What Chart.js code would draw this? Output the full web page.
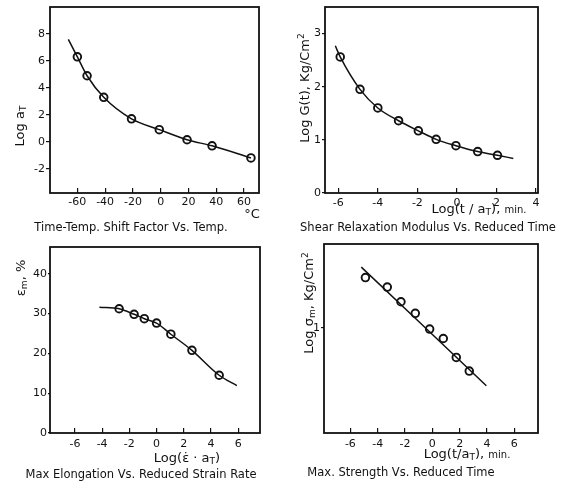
<!DOCTYPE html>
<html><head><meta charset="utf-8">
<script src="https://cdn.jsdelivr.net/npm/chart.js@4.4.1/dist/chart.umd.min.js"></script>
<style>
html,body{margin:0;padding:0;background:#fff;}
#wrap{position:relative;width:573px;height:486px;overflow:hidden;font-family:"DejaVu Sans",sans-serif;color:#111;}
canvas{position:absolute;}
.t{position:absolute;white-space:nowrap;transform:translate(-50%,-50%);line-height:1;}
.r{transform:translate(-50%,-50%) rotate(-90deg);}
.cap{font-size:11.5px;}
.ax{font-size:13px;}
sub{font-size:70%;vertical-align:-0.3em;line-height:0;}
sup{font-size:70%;vertical-align:0.5em;line-height:0;}
.sm{font-size:10px;}
</style>
</head><body>
<div id="wrap">
<canvas id="c1" width="286" height="215" style="left:0;top:0;width:286px;height:215px"></canvas>
<canvas id="c2" width="287" height="215" style="left:286px;top:0;width:287px;height:215px"></canvas>
<canvas id="c3" width="286" height="215" style="left:0;top:243px;width:286px;height:215px"></canvas>
<canvas id="c4" width="287" height="215" style="left:286px;top:243px;width:287px;height:215px"></canvas>

<div class="t r ax" style="left:19px;top:126px">Log a<sub>T</sub></div>
<div class="t ax" style="left:252px;top:213px">°C</div>
<div class="t cap" style="left:131px;top:228px">Time-Temp. Shift Factor Vs. Temp.</div>

<div class="t r ax" style="left:304px;top:88px">Log G(t), Kg/Cm<sup>2</sup></div>
<div class="t ax" style="left:479px;top:208px">Log(t / a<sub>T</sub>), <span class="sm">min.</span></div>
<div class="t cap" style="left:428px;top:228px">Shear Relaxation Modulus Vs. Reduced Time</div>

<div class="t r ax" style="left:20px;top:278px">ε<sub>m</sub>, %</div>
<div class="t ax" style="left:187px;top:457px">Log(ε̇ · a<sub>T</sub>)</div>
<div class="t cap" style="left:141px;top:475px">Max Elongation Vs. Reduced Strain Rate</div>

<div class="t r ax" style="left:308px;top:303px">Log σ<sub>m</sub>, Kg/Cm<sup>2</sup></div>
<div class="t ax" style="left:467px;top:453px">Log(t/a<sub>T</sub>), <span class="sm">min.</span></div>
<div class="t cap" style="left:401px;top:473px">Max. Strength Vs. Reduced Time</div>
</div>
<script>
// ---- Panel 1: Time-Temp shift factor vs temperature ----
const tempC        = [-60, -53, -41, -21, -1, 19, 37, 65];
const logAT        = [6.3, 4.9, 3.3, 1.7, 0.9, 0.15, -0.3, -1.2];
const shiftCurveT  = [-66.5, -60, -53, -41, -21, -1, 19, 37, 65];
const shiftCurveY  = [7.6, 6.3, 4.9, 3.3, 1.7, 0.9, 0.15, -0.3, -1.2];
const tempTicks    = [-60, -40, -20, 0, 20, 40, 60];
const logATTicks   = [-2, 0, 2, 4, 6, 8];

// ---- Panel 2: Shear relaxation modulus vs reduced time ----
const logTime      = [-5.9, -4.9, -4, -2.95, -1.95, -1.05, -0.05, 1.05, 2.05];
const logG         = [2.56, 1.95, 1.6, 1.36, 1.17, 1.01, 0.89, 0.78, 0.71];
const relaxCurveT  = [-6.15, -5.9, -4.9, -4, -2.95, -1.95, -1.05, -0.05, 1.05, 2.05, 2.85];
const relaxCurveG  = [2.77, 2.56, 1.95, 1.6, 1.36, 1.17, 1.01, 0.89, 0.78, 0.71, 0.65];
const timeTicks    = [-6, -4, -2, 0, 2, 4];
const logGTicks    = [0, 1, 2, 3];

// ---- Panel 3: Max elongation vs reduced strain rate ----
const logRate      = [-2.75, -1.65, -0.9, 0, 1.05, 2.6, 4.6];
const elongation   = [31.2, 29.8, 28.7, 27.6, 24.8, 20.75, 14.5];
const elongCurveX  = [-4.2, -2.75, -1.65, -0.9, 0, 1.05, 2.6, 4.6, 5.9];
const elongCurveY  = [31.6, 31.2, 29.8, 28.7, 27.6, 24.8, 20.75, 14.5, 11.9];
const rateTicks    = [-6, -4, -2, 0, 2, 4, 6];
const elongTicks   = [0, 10, 20, 30, 40];

// ---- Panel 4: Max strength vs reduced time ----
const logTime2     = [-4.9, -3.3, -2.3, -1.25, -0.2, 0.8, 1.75, 2.7];
const logSigma     = [1.48, 1.39, 1.25, 1.14, 0.99, 0.9, 0.72, 0.59];
const strengthLineX = [-5.2, 3.95];
const strengthLineY = [1.58, 0.45];
const timeTicks2   = [-6, -4, -2, 0, 2, 4, 6];
const logSigmaTicks = [1];

const INK = '#111';
const pts = (xs, ys) => xs.map((x, i) => ({x, y: ys[i]}));

const framePlugin = {
  id: 'frame',
  afterDraw(chart) {
    const a = chart.chartArea, ctx = chart.ctx;
    ctx.save();
    ctx.strokeStyle = INK; ctx.lineWidth = 1.8;
    ctx.strokeRect(a.left, a.top, a.right - a.left, a.bottom - a.top);
    ctx.restore();
  }
};

function axisX(min, max, ticks, h, pad) {
  return {
    type: 'linear', position: 'bottom', min, max,
    afterBuildTicks: s => { s.ticks = ticks.map(v => ({value: v})); },
    afterFit: s => { s.height = h; s.paddingLeft = 0; s.paddingRight = 0; },
    grid: {drawOnChartArea: false, drawTicks: true, tickLength: -5, color: INK, lineWidth: 1.2},
    border: {display: false},
    ticks: {color: INK, font: {family: 'DejaVu Sans', size: 11}, padding: pad, maxRotation: 0, autoSkip: false}
  };
}
function axisY(min, max, ticks, w, tl) {
  return {
    type: 'linear', position: 'left', min, max,
    afterBuildTicks: s => { s.ticks = ticks.map(v => ({value: v})); },
    afterFit: s => { s.width = w; s.paddingTop = 0; s.paddingBottom = 0; },
    grid: {drawOnChartArea: false, drawTicks: true, tickLength: tl, color: INK, lineWidth: 1.2},
    border: {display: false},
    ticks: {color: INK, font: {family: 'DejaVu Sans', size: 11}, padding: 1, autoSkip: false}
  };
}

function panel(id, curve, marks, sx, sy, padTop, padRight) {
  new Chart(document.getElementById(id), {
    type: 'scatter',
    data: {datasets: [
      {data: curve, showLine: true, borderColor: INK, borderWidth: 1.5, pointRadius: 0,
       cubicInterpolationMode: 'monotone', fill: false},
      {data: marks, showLine: false, pointRadius: 3.8, pointBorderWidth: 1.9,
       pointBorderColor: INK, pointBackgroundColor: 'rgba(255,255,255,0)'}
    ]},
    options: {
      responsive: false, animation: false, devicePixelRatio: 1,
      layout: {autoPadding: false, padding: {top: padTop, right: padRight, left: 0, bottom: 0}},
      plugins: {legend: {display: false}, tooltip: {enabled: false}},
      scales: {x: sx, y: sy}
    },
    plugins: [framePlugin]
  });
}

panel('c1', pts(shiftCurveT, shiftCurveY), pts(tempC, logAT),
  axisX(-79.7, 70.8, tempTicks, 22, 8), axisY(-3.8, 10, logATTicks, 50, 4), 7, 27);
panel('c2', pts(relaxCurveT, relaxCurveG), pts(logTime, logG),
  axisX(-6.67, 4.1, timeTicks, 22, 9), axisY(0, 3.5, logGTicks, 39, 3), 7, 35);
panel('c3', pts(elongCurveX, elongCurveY), pts(logRate, elongation),
  axisX(-7.83, 7.6, rateTicks, 25, 10), axisY(0, 46.7, elongTicks, 50, 2), 4, 26);
panel('c4', pts(strengthLineX, strengthLineY), pts(logTime2, logSigma),
  axisX(-7.93, 7.73, timeTicks2, 25, 10), axisY(0, 1.8, logSigmaTicks, 38, 3), 1, 35);
</script>
</body></html>
